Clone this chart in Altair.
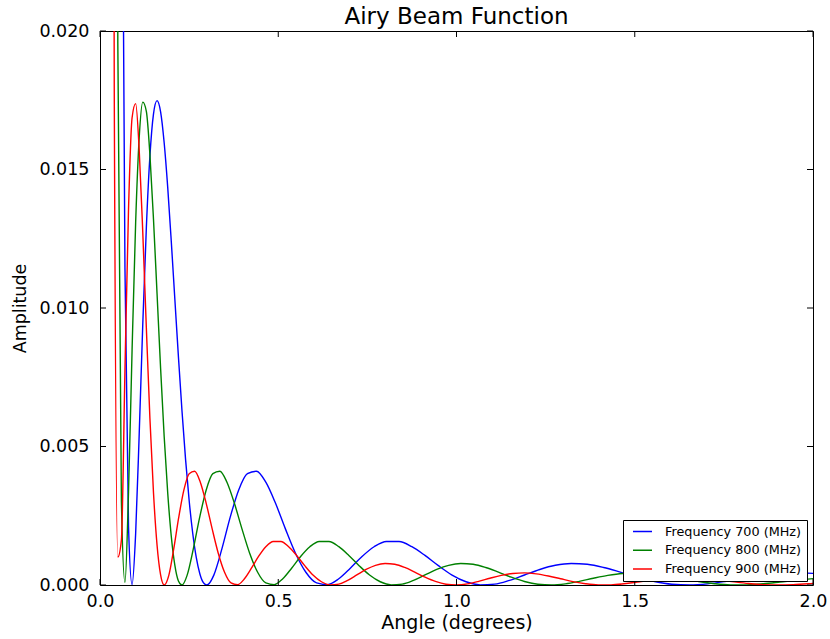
import altair as alt
import pandas as pd

# ---------------- data ----------------
series_names = ["Frequency 700 (MHz)", "Frequency 800 (MHz)", "Frequency 900 (MHz)"]
series_colors = ["#0000ff", "#008000", "#ff0000"]

x_ticks = [0.0, 0.5, 1.0, 1.5, 2.0]
y_ticks = [0.0, 0.005, 0.010, 0.015, 0.020]

angle_700 = [0.00, 0.01, 0.02, 0.03, 0.04, 0.05, 0.06, 0.07, 0.08, 0.09, 0.10,
             0.11, 0.12, 0.13, 0.14, 0.15, 0.16, 0.17, 0.18, 0.19, 0.20,
             0.21, 0.22, 0.23, 0.24, 0.25, 0.26, 0.27, 0.28, 0.29, 0.30,
             0.3193, 0.3417, 0.3649, 0.3888, 0.4135, 0.4389, 0.4651, 0.4921, 0.5198, 0.5483,
             0.5775, 0.6075, 0.6383, 0.6698, 0.7021, 0.7351, 0.7689, 0.8034, 0.8388, 0.8748,
             0.9116, 0.9492, 0.9876, 1.0267, 1.0666, 1.1072, 1.1486, 1.1907, 1.2336, 1.2773,
             1.3217, 1.3669, 1.4128, 1.4595, 1.5070, 1.5552, 1.6042, 1.6540, 1.7045, 1.7557,
             1.8077, 1.8605, 1.9140, 1.9683, 2.0234]
amp_700 = [1.0, 0.6514, 0.4110, 0.2475, 0.1401, 0.07274, 0.03287, 0.01145, 0.002114, 0.000013, 0.001860,
           0.005463, 0.009419, 0.012900, 0.015478, 0.016999, 0.017487, 0.017082, 0.015966, 0.014347, 0.012394,
           0.010306, 0.008237, 0.006282, 0.004535, 0.003061, 0.001877, 0.000995, 0.000408, 0.000086, 0.000001,
           0.000357, 0.001294, 0.002432, 0.003423, 0.004019, 0.004109, 0.003712, 0.002958, 0.002035, 0.001148,
           0.000460, 0.0000752, 0.0000138, 0.000225, 0.000606, 0.001030, 0.001381, 0.001573, 0.001570, 0.001383,
           0.001067, 0.000699, 0.000360, 0.000117, 0.0000059, 0.0000317, 0.000167, 0.000362, 0.000561, 0.000711,
           0.000777, 0.000747, 0.000633, 0.000465, 0.000283, 0.000128, 0.0000283, 0.0000005, 0.0000411, 0.000132,
           0.000245, 0.000348, 0.000417, 0.000436, 0.000401]

angle_800 = [0.00, 0.01, 0.02, 0.03, 0.04, 0.05, 0.06, 0.07, 0.08, 0.09, 0.10,
             0.11, 0.12, 0.13, 0.14, 0.15, 0.16, 0.17, 0.18, 0.19, 0.20,
             0.21, 0.22, 0.23,
             0.2445, 0.2616, 0.2794, 0.2977, 0.3166, 0.3361, 0.3561, 0.3768, 0.3980, 0.4198,
             0.4422, 0.4651, 0.4887, 0.5128, 0.5375, 0.5628, 0.5887, 0.6151, 0.6422, 0.6698,
             0.6980, 0.7268, 0.7561, 0.7861, 0.8166, 0.8477, 0.8794, 0.9116, 0.9445, 0.9779,
             1.0119, 1.0465, 1.0817, 1.1175, 1.1538, 1.1907, 1.2282, 1.2663, 1.3050, 1.3442,
             1.3840, 1.4244, 1.4654, 1.5070, 1.5492, 1.5919, 1.6352, 1.6791, 1.7236, 1.7686,
             1.8143, 1.8605, 1.9073, 1.9547, 2.0026]
amp_800 = [1.0, 0.5680, 0.3031, 0.1472, 0.06175, 0.01955, 0.003039, 0.0000972, 0.003362, 0.008488, 0.013087,
           0.016154, 0.017432, 0.017098, 0.015540, 0.013211, 0.010523, 0.007820, 0.005361, 0.003310, 0.001752,
           0.000708, 0.000146, 0.0000017,
           0.000357, 0.001294, 0.002432, 0.003423, 0.004019, 0.004109, 0.003712, 0.002958, 0.002035, 0.001148,
           0.000460, 0.0000752, 0.0000138, 0.000225, 0.000606, 0.001030, 0.001381, 0.001573, 0.001570, 0.001383,
           0.001067, 0.000699, 0.000360, 0.000117, 0.0000059, 0.0000317, 0.000167, 0.000362, 0.000561, 0.000711,
           0.000777, 0.000747, 0.000633, 0.000465, 0.000283, 0.000128, 0.0000283, 0.0000005, 0.0000411, 0.000132,
           0.000245, 0.000348, 0.000417, 0.000436, 0.000401, 0.000324, 0.000224, 0.000124, 0.0000456, 0.0000046,
           0.0000059, 0.0000446, 0.000108, 0.000177, 0.000234]

angle_900 = [0.00, 0.01, 0.02, 0.03, 0.04, 0.05, 0.06, 0.07, 0.08, 0.09, 0.10,
             0.11, 0.12, 0.13, 0.14, 0.15, 0.16, 0.17, 0.18,
             0.1932, 0.2067, 0.2207, 0.2352, 0.2501, 0.2655, 0.2814, 0.2977, 0.3145, 0.3317,
             0.3494, 0.3675, 0.3861, 0.4052, 0.4247, 0.4447, 0.4651, 0.4860, 0.5074, 0.5292,
             0.5515, 0.5742, 0.5974, 0.6211, 0.6452, 0.6698, 0.6948, 0.7203, 0.7463, 0.7727,
             0.7996, 0.8269, 0.8547, 0.8829, 0.9117, 0.9408, 0.9705, 1.0006, 1.0311, 1.0621,
             1.0936, 1.1255, 1.1579, 1.1907, 1.2240, 1.2578, 1.2920, 1.3267, 1.3619, 1.3975,
             1.4335, 1.4700, 1.5070, 1.5445, 1.5824, 1.6207, 1.6595, 1.6988, 1.7386, 1.7788,
             1.8194, 1.8605, 1.9021, 1.9441, 1.9866, 2.0296]
amp_900 = [1.0, 0.4844, 0.2095, 0.07486, 0.017924, 0.001009, 0.001622, 0.007747, 0.013563, 0.016869, 0.017379,
           0.015695, 0.012722, 0.009285, 0.006019, 0.003337, 0.001446, 0.000363, 0.0000019,
           0.000357, 0.001294, 0.002432, 0.003423, 0.004019, 0.004109, 0.003712, 0.002958, 0.002035, 0.001148,
           0.000460, 0.0000752, 0.0000138, 0.000225, 0.000606, 0.001030, 0.001381, 0.001573, 0.001570, 0.001383,
           0.001067, 0.000699, 0.000360, 0.000117, 0.0000059, 0.0000317, 0.000167, 0.000362, 0.000561, 0.000711,
           0.000777, 0.000747, 0.000633, 0.000465, 0.000283, 0.000128, 0.0000283, 0.0000005, 0.0000411, 0.000132,
           0.000245, 0.000348, 0.000417, 0.000436, 0.000401, 0.000324, 0.000224, 0.000124, 0.0000456, 0.0000046,
           0.0000059, 0.0000446, 0.000108, 0.000177, 0.000234, 0.000265, 0.000264, 0.000232, 0.000177, 0.000113,
           0.000055, 0.0000148, 0.0, 0.0000118, 0.0000448, 0.0000891]

# ---------------- build table ----------------
rows = []
for name, xs, ys in zip(series_names, [angle_700, angle_800, angle_900], [amp_700, amp_800, amp_900]):
    assert len(xs) == len(ys), (name, len(xs), len(ys))
    for i, (a, v) in enumerate(zip(xs, ys)):
        rows.append({"series": name, "angle": a, "amplitude": v, "idx": i})
df = pd.DataFrame(rows)

W, H = 713, 554
FONT = "DejaVu Sans"
TICK = 6

xscale = alt.Scale(domain=[0, 2], nice=False, zero=False, padding=0)
yscale = alt.Scale(domain=[0, 0.02], nice=False, zero=False, padding=0)

lines = alt.Chart(df).mark_line(clip=True, strokeWidth=1.4, interpolate="monotone").encode(
    x=alt.X("angle:Q", scale=xscale,
            axis=alt.Axis(values=x_ticks, format=".1f", title="Angle (degrees)",
                          labelPadding=7, labelFlush=False, titleX=W / 2, titleY=43,
                          titleBaseline="alphabetic", titleAlign="center",
                          titleFontSize=19)),
    y=alt.Y("amplitude:Q", scale=yscale,
            axis=alt.Axis(values=y_ticks, format=".3f", title="Amplitude",
                          labelPadding=11, labelFlush=False, titleX=-75, titleY=H / 2,
                          titleAngle=270, titleBaseline="alphabetic", titleAlign="center",
                          titleFontSize=17.5)),
    color=alt.Color("series:N",
                    scale=alt.Scale(domain=series_names, range=series_colors),
                    legend=alt.Legend(title=None, orient="none", legendX=523, legendY=489,
                                      symbolType="stroke", symbolSize=361, symbolStrokeWidth=1.5,
                                      labelFont=FONT, labelFontSize=12.8, labelColor="black",
                                      strokeColor="black", fillColor="white", padding=5,
                                      symbolOffset=4, labelOffset=12, rowPadding=4.8,
                                      clipHeight=13, cornerRadius=0)),
    order="idx:Q",
)

xt = pd.DataFrame({"angle": x_ticks})
yt = pd.DataFrame({"amplitude": y_ticks})

bottom_ticks = alt.Chart(xt).mark_rule(color="black", strokeWidth=1).encode(
    x=alt.X("angle:Q", scale=xscale), y=alt.value(H), y2=alt.value(H - TICK))
top_ticks = alt.Chart(xt).mark_rule(color="black", strokeWidth=1).encode(
    x=alt.X("angle:Q", scale=xscale), y=alt.value(0), y2=alt.value(TICK))
left_ticks = alt.Chart(yt).mark_rule(color="black", strokeWidth=1).encode(
    y=alt.Y("amplitude:Q", scale=yscale), x=alt.value(0), x2=alt.value(TICK))
right_ticks = alt.Chart(yt).mark_rule(color="black", strokeWidth=1).encode(
    y=alt.Y("amplitude:Q", scale=yscale), x=alt.value(W - TICK), x2=alt.value(W))

chart = alt.layer(lines, bottom_ticks, top_ticks, left_ticks, right_ticks).properties(
    width=W, height=H,
    title=alt.TitleParams("Airy Beam Function", font=FONT, fontSize=23, fontWeight="normal",
                          color="black", anchor="middle", frame="group", offset=2, dy=9),
    autosize=alt.AutoSizeParams(type="none"),
    padding={"left": 100, "top": 31, "right": 17, "bottom": 54},
    background="white",
).configure_view(
    stroke="black", strokeWidth=1, fill="white"
).configure_axis(
    domain=False, ticks=False, tickSize=0, grid=False,
    labelFont=FONT, labelFontSize=17.5, labelColor="black",
    titleFont=FONT, titleFontWeight="normal", titleColor="black",
)

chart.save("out.html", embed_options={"renderer": "svg", "actions": False})
